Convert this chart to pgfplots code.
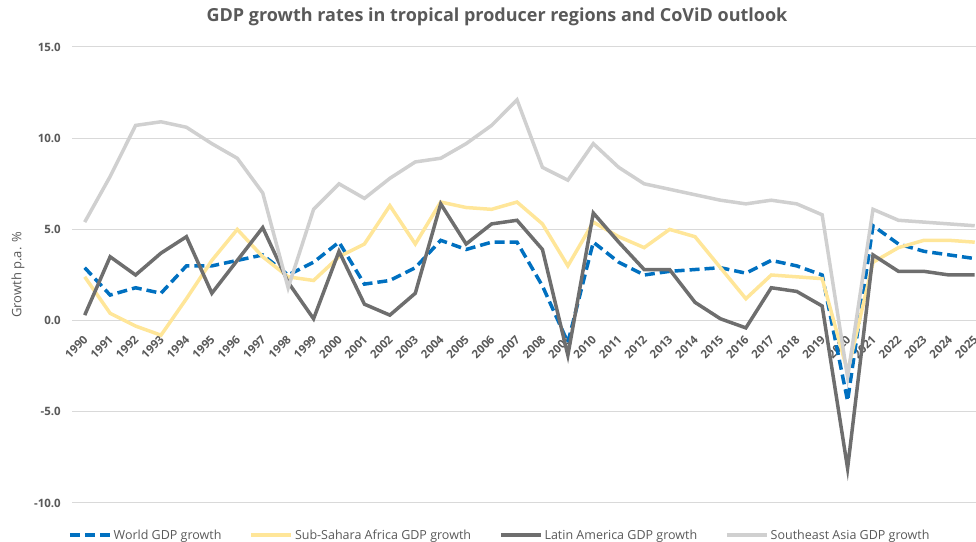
\documentclass[border=0pt]{standalone}
\usepackage{pgfplots}
\pgfplotsset{compat=1.18}
\usepackage{pgfplotstable}
\usepackage{fontspec}
\setmainfont{Open Sans}
\definecolor{worldc}{HTML}{0070C0}
\definecolor{ssac}{HTML}{FFE699}
\definecolor{lac}{HTML}{6E6E6E}
\definecolor{seac}{HTML}{D0D0D0}
\definecolor{gridc}{HTML}{D9D9D9}
\definecolor{txtc}{HTML}{595959}
\pgfplotstableread{
year world ssa la sea
1990 2.9 2.4 0.3 5.4
1991 1.4 0.4 3.5 7.9
1992 1.8 -0.3 2.5 10.7
1993 1.5 -0.8 3.7 10.9
1994 3.0 1.2 4.6 10.6
1995 3.0 3.3 1.5 9.7
1996 3.3 5.0 3.3 8.9
1997 3.6 3.5 5.1 7.0
1998 2.5 2.4 2.1 1.8
1999 3.2 2.2 0.1 6.1
2000 4.3 3.5 3.8 7.5
2001 2.0 4.2 0.9 6.7
2002 2.2 6.3 0.3 7.8
2003 2.9 4.2 1.5 8.7
2004 4.4 6.5 6.4 8.9
2005 3.9 6.2 4.2 9.7
2006 4.3 6.1 5.3 10.7
2007 4.3 6.5 5.5 12.1
2008 1.9 5.3 3.9 8.4
2009 -1.2 3.0 -1.9 7.7
2010 4.3 5.4 5.9 9.7
2011 3.2 4.6 4.3 8.4
2012 2.5 4.0 2.8 7.5
2013 2.7 5.0 2.8 7.2
2014 2.8 4.6 1.0 6.9
2015 2.9 2.9 0.1 6.6
2016 2.6 1.2 -0.4 6.4
2017 3.3 2.5 1.8 6.6
2018 3.0 2.4 1.6 6.4
2019 2.5 2.3 0.8 5.8
2020 -4.4 -2.8 -8.1 -3.1
2021 5.2 3.2 3.6 6.1
2022 4.2 4.0 2.7 5.5
2023 3.8 4.4 2.7 5.4
2024 3.6 4.4 2.5 5.3
2025 3.4 4.3 2.5 5.2
}\gdp
\begin{document}
\begin{tikzpicture}
\path[use as bounding box] (0,0) rectangle (976bp,542bp);
\begin{axis}[
  at={(72bp,39bp)}, anchor=south west,
  scale only axis, width=904bp, height=456bp,
  xmin=1989.5, xmax=2025.05, ymin=-10, ymax=15,
  axis x line=middle, axis y line=left,
  axis line style={draw=none},
  ymajorgrids, grid style={gridc, line width=1bp},
  major tick length=0pt,
  xtick={1990,1991,...,2025},
  ytick={-10,-5,0,5,10,15},
  yticklabels={-10.0,-5.0,0.0,5.0,10.0,15.0},
  xticklabel={\rotatebox{45}{\pgfmathprintnumber[1000 sep={},assume math mode=true]{\tick}}},
  /pgf/number format/assume math mode=true,
  tick label style={font=\fontsize{11.5bp}{13bp}\selectfont\bfseries, text=txtc},
  xticklabel style={inner sep=0pt, anchor=north east, xshift=4bp, yshift=-14bp},
  yticklabel style={inner sep=0pt, xshift=-11bp},
  legend columns=4,
  legend style={at={(rel axis cs:0,0)}, anchor=west, xshift=-4bp, yshift=-32bp,
    draw=none, fill=none, inner sep=0pt,
    font=\fontsize{12.5bp}{14bp}\selectfont, text=txtc,
    /tikz/every even column/.append style={column sep=26bp}},
  legend cell align=left,
  legend image code/.code={\draw[#1] (0bp,0bp) -- (40bp,0bp);},
  clip=true,
]
\addplot[worldc, line width=3.5bp, dash pattern=on 10bp off 5bp] table[x=year,y=world]{\gdp};
\addlegendentry{World GDP growth}
\addplot[ssac, line width=3.5bp] table[x=year,y=ssa]{\gdp};
\addlegendentry{Sub-Sahara Africa GDP growth}
\addplot[lac, line width=3.5bp] table[x=year,y=la]{\gdp};
\addlegendentry{Latin America GDP growth}
\addplot[seac, line width=3.5bp] table[x=year,y=sea]{\gdp};
\addlegendentry{Southeast Asia GDP growth}
\end{axis}
\node[text=txtc, font=\fontsize{18bp}{21bp}\selectfont\bfseries] at (497bp,525bp) {GDP growth rates in tropical producer regions and CoViD outlook};
\node[text=txtc, rotate=90, font=\fontsize{13bp}{15bp}\selectfont] at (18bp,267bp) {Growth p.a. \%};
\end{tikzpicture}
\end{document}
